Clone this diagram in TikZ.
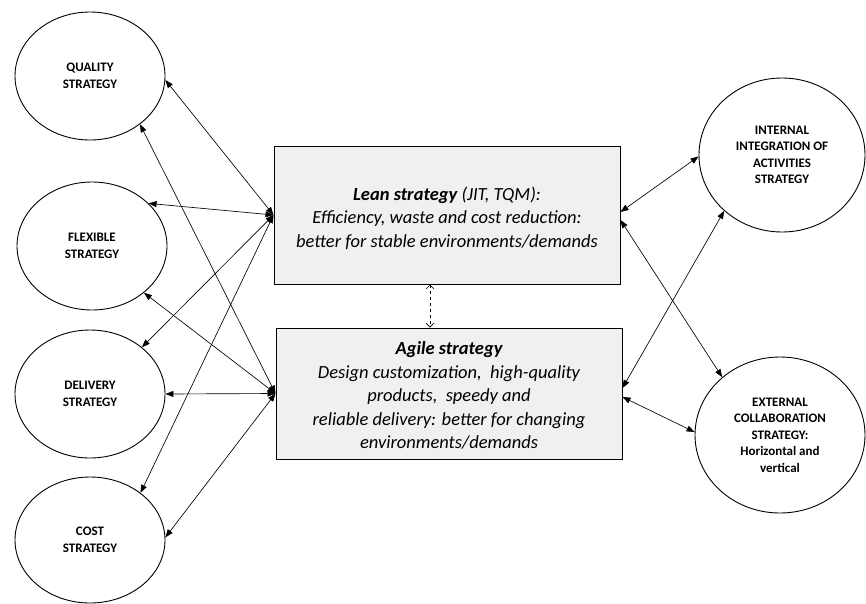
\documentclass[tikz,border=0pt]{standalone}
\usepackage{fontspec}
\setmainfont{Carlito}
\usetikzlibrary{arrows.meta,shapes.geometric}
\begin{document}
\begin{tikzpicture}[x=1pt,y=-1pt,
  strat/.style={draw, line width=0.9pt, ellipse, inner sep=0pt, align=center,
    font=\fontsize{13}{16.5}\selectfont\bfseries},
  stratbox/.style={draw, line width=1pt, fill=black!6, minimum width=346pt, inner sep=0pt,
    align=center, font=\fontsize{18.5}{23.5}\selectfont\itshape},
  link/.style={line width=0.65pt, {Triangle[length=8pt,width=6pt]}-{Triangle[length=8pt,width=6pt]}},
  dlink/.style={dashed, line width=0.6pt, {Straight Barb[length=4pt,width=8pt]}-{Straight Barb[length=4pt,width=8pt]}}
  ]
\useasboundingbox (0,0) rectangle (866,603);

% left ellipses
\node[strat, minimum width=150pt, minimum height=128pt] (q) at (90,76) {QUALITY\\STRATEGY};
\node[strat, minimum width=150pt, minimum height=128pt] (f) at (92,246) {FLEXIBLE\\STRATEGY};
\node[strat, minimum width=150pt, minimum height=128pt] (d) at (90,394) {DELIVERY\\STRATEGY};
\node[strat, minimum width=150pt, minimum height=126pt] (c) at (90,540) {COST\\STRATEGY};

% right ellipses
\node[strat, minimum width=166pt, minimum height=154pt] (ii) at (782,155) {INTERNAL\\INTEGRATION OF\\ACTIVITIES\\STRATEGY};
\node[strat, minimum width=170pt, minimum height=156pt] (ee) at (780,435) {EXTERNAL\\COLLABORATION\\STRATEGY:\\Horizontal and\\vertical};

% central boxes
\node[stratbox, minimum height=138pt] (lean) at (447,215) {};
\node[font=\fontsize{18.5}{23.5}\selectfont\itshape, align=center, inner sep=0pt] (leantxt) at (447,218)
  {\textbf{Lean strategy} (JIT, TQM):\\Efficiency, waste and cost reduction:\\better for stable environments/demands};
\node[stratbox, minimum height=131pt] (agile) at (449,393.5) {};
\node[font=\fontsize{18.5}{23.5}\selectfont\itshape, align=center, inner sep=0pt] (agiletxt) at (449,395.5)
  {\textbf{Agile strategy}\\Design customization,\ \ high-quality\\products,\ \ speedy and\\reliable delivery: better for changing\\environments/demands};

% dashed link between boxes
\draw[dlink] ([xshift=-17pt]lean.south) -- ([xshift=-19pt]agile.north);

% left links
\draw[link] (lean.west) -- (q.-3);
\draw[link] (lean.west) -- (f.37);
\draw[link] (lean.west) -- (d.42);
\draw[link] (lean.west) -- (c.43);
\draw[link] (agile.west) -- (q.-44);
\draw[link] (agile.west) -- (f.-42);
\draw[link] (agile.west) -- (d.0);
\draw[link] (agile.west) -- (c.2);

% right links
\draw[link] ([yshift=3pt]lean.east) -- (ii.181);
\draw[link] ([yshift=-5pt]lean.east) -- (ee.135);
\draw[link] ([yshift=5.5pt]agile.east) -- (ii.-136);
\draw[link] ([yshift=-3.5pt]agile.east) -- (ee.178);
\end{tikzpicture}
\end{document}
